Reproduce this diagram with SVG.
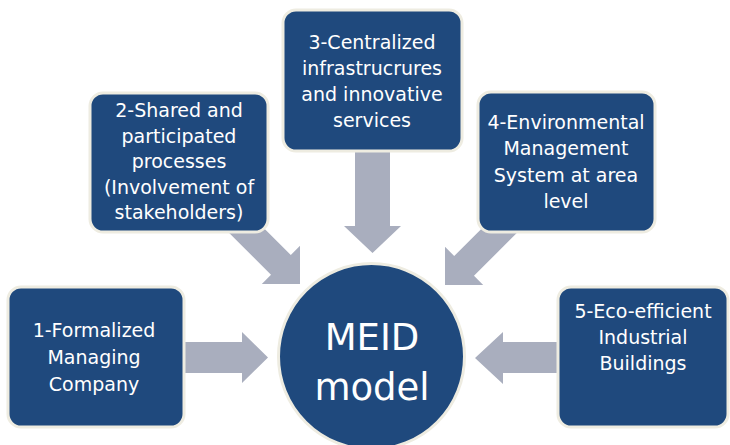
<svg xmlns="http://www.w3.org/2000/svg" width="730" height="445" viewBox="0 0 730 445">
<style>
.box{fill:#1f497d;stroke:#eeece1;stroke-width:3}
.arr{fill:#a9aebe}
.t{font-family:"DejaVu Sans",sans-serif;font-size:19px;fill:#ffffff;text-anchor:middle}
.big{font-family:"DejaVu Sans",sans-serif;font-size:37px;fill:#ffffff;text-anchor:middle}
</style>
<rect width="730" height="445" fill="#ffffff"/>
<g id="connectors">
  <polygon class="arr" points="180,342 242,342 242,332 268,357.5 242,383 242,373 180,373"/>
  <polygon class="arr" points="565,342 503,342 503,332 475,358 503,384 503,373 565,373"/>
  <polygon class="arr" points="355,140 390,140 390,226 401,226 372.5,253 344,226 355,226"/>
  <polygon class="arr" transform="translate(300,284) rotate(45)" points="0,0 -27,27 -27,14 -100,14 -100,-14 -27,-14 -27,-27"/>
  <polygon class="arr" transform="translate(445,285) rotate(135)" points="0,0 -27,27 -27,14 -100,14 -100,-14 -27,-14 -27,-27"/>
</g>
<g id="node1">
  <rect class="box" x="8" y="287" width="176" height="140" rx="13"/>
  <text class="t" x="94" y="337">1-Formalized</text>
  <text class="t" x="94" y="364">Managing</text>
  <text class="t" x="94" y="391">Company</text>
</g>
<g id="node2">
  <rect class="box" x="90" y="93" width="178" height="139" rx="13"/>
  <text class="t" x="179" y="117">2-Shared and</text>
  <text class="t" x="179" y="143">participated</text>
  <text class="t" x="179" y="168">processes</text>
  <text class="t" x="179" y="194">(Involvement of</text>
  <text class="t" x="179" y="219">stakeholders)</text>
</g>
<g id="node3">
  <rect class="box" x="283" y="10" width="179" height="141" rx="13"/>
  <text class="t" x="372" y="49">3-Centralized</text>
  <text class="t" x="372" y="75">infrastrucrures</text>
  <text class="t" x="372" y="101">and innovative</text>
  <text class="t" x="372" y="127">services</text>
</g>
<g id="node4">
  <rect class="box" x="478" y="92" width="177" height="140" rx="13"/>
  <text class="t" x="566" y="129">4-Environmental</text>
  <text class="t" x="566" y="155">Management</text>
  <text class="t" x="566" y="182">System at area</text>
  <text class="t" x="566" y="208">level</text>
</g>
<g id="node5">
  <rect class="box" x="558" y="287" width="170" height="140" rx="13"/>
  <text class="t" x="643" y="318">5-Eco-efficient</text>
  <text class="t" x="643" y="344">Industrial</text>
  <text class="t" x="643" y="370">Buildings</text>
</g>
<g id="center">
  <circle class="box" cx="371.5" cy="356.5" r="93"/>
  <text class="big" x="372" y="350">MEID</text>
  <text class="big" x="372" y="400">model</text>
</g>
</svg>
